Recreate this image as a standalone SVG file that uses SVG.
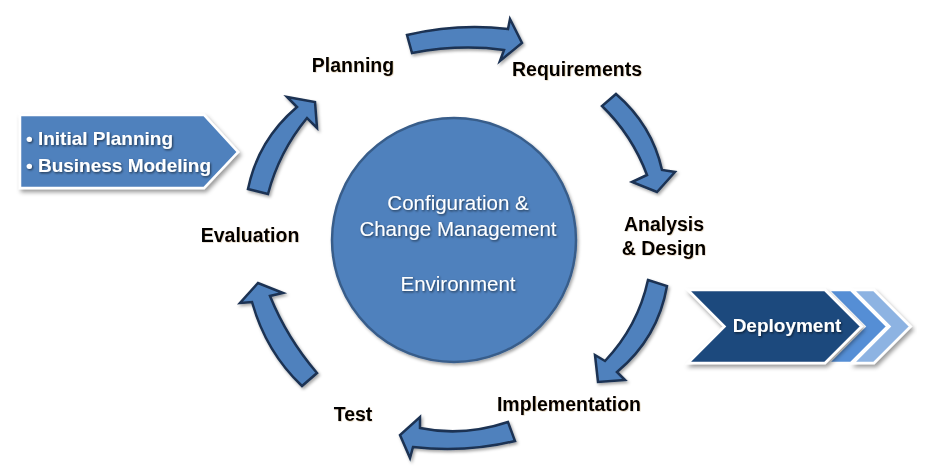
<svg xmlns="http://www.w3.org/2000/svg" width="925" height="476" viewBox="0 0 925 476">
<style>
.lbl{font-family:"Liberation Sans",Arial,sans-serif;font-weight:bold;font-size:19.5px;fill:#000;text-anchor:middle;filter:url(#tsh)}
.wt{font-family:"Liberation Sans",Arial,sans-serif;font-size:20.5px;fill:#fff;text-anchor:middle;filter:url(#wsh)}
.wb{font-family:"Liberation Sans",Arial,sans-serif;font-weight:bold;font-size:19px;fill:#fff;filter:url(#wsh)}
.arr{fill:#4f81bd;stroke:#1b3252;stroke-width:2.5;stroke-linejoin:miter;filter:url(#ash)}
.box{fill:#4f81bd;stroke:#fff;stroke-width:2.5;filter:url(#bsh)}
</style>
<defs>
<filter id="tsh" x="-10%" y="-30%" width="120%" height="160%"><feDropShadow dx="0.6" dy="0.6" stdDeviation="0.4" flood-color="#8a5a20" flood-opacity="0.3"/></filter>
<filter id="wsh" x="-10%" y="-30%" width="120%" height="160%"><feDropShadow dx="1" dy="1.2" stdDeviation="0.8" flood-color="#000" flood-opacity="0.6"/></filter>
<filter id="ash" x="-20%" y="-20%" width="140%" height="140%"><feDropShadow dx="1.5" dy="2" stdDeviation="1.5" flood-color="#000" flood-opacity="0.35"/></filter>
<filter id="bsh" x="-10%" y="-20%" width="120%" height="150%"><feDropShadow dx="2" dy="3" stdDeviation="2" flood-color="#000" flood-opacity="0.4"/></filter>
</defs>
<rect width="925" height="476" fill="#fff"/>

<g id="connectors">
<path class="arr" d="M407,35 Q458,23 508,29 L510,19 L522,43 L500,61 L504,50 Q460,44 412,53 Z"/>
<path class="arr" d="M602,106 Q632,135 647,175 L632,182 L657,192 L675,172 L662,170 Q652,125 616,94 Z"/>
<path class="arr" d="M648,280 L667,286 Q658,338 617,372 L625,380 L598,382 L595,355 L605,361 Q638,326 648,280 Z"/>
<path class="arr" d="M508,422 Q463,437 420,428 L420,417 L400,435 L410,458 L413,447 Q465,453 515,441 Z"/>
<path class="arr" d="M252,302 Q266,352 302,386 L317,373 Q287,338 270,296 L283,293 L258,283 L240,303 Z"/>
<path class="arr" d="M248,189 Q258,140 297,107 L287,97 L315,102 L317,128 L307,118 Q279,152 268,194 Z"/>
</g>

<g id="center">
<circle cx="454" cy="240" r="122" fill="#4f81bd" stroke="#385d8a" stroke-width="2.5" filter="url(#ash)"/>
<text class="wt" x="458" y="210">Configuration &amp;</text>
<text class="wt" x="458" y="236">Change Management</text>
<text class="wt" x="458" y="291">Environment</text>
</g>

<g id="planning"><text class="lbl" x="353" y="72">Planning</text></g>
<g id="requirements"><text class="lbl" x="577" y="76">Requirements</text></g>
<g id="analysis"><text class="lbl" x="664" y="231">Analysis</text><text class="lbl" x="664" y="255">&amp; Design</text></g>
<g id="implementation"><text class="lbl" x="569" y="411">Implementation</text></g>
<g id="test"><text class="lbl" x="353" y="421">Test</text></g>
<g id="evaluation"><text class="lbl" x="250" y="242">Evaluation</text></g>

<g id="callout">
<path class="box" d="M20,115 L204,115 L238,152 L204,188 L20,188 Z"/>
<text class="wb" x="26" y="145">• Initial Planning</text>
<text class="wb" x="26" y="172">• Business Modeling</text>
</g>

<g id="deployment">
<path d="M853,290 L874,290 L910.5,326.5 L874,363 L853,363 L889.5,326.5 Z" fill="#8db3e2" stroke="#fff" stroke-width="2.5" filter="url(#bsh)"/>
<path d="M828,290 L851,290 L887.5,326.5 L851,363 L828,363 L864.5,326.5 Z" fill="#558ed5" stroke="#fff" stroke-width="2.5"/>
<path d="M688,290 L825,290 L861.5,326.5 L825,363 L688,363 L724.5,326.5 Z" fill="#1f497d" stroke="#fff" stroke-width="2.5" filter="url(#bsh)"/>
<text class="wb" x="787" y="332" text-anchor="middle">Deployment</text>
</g>
</svg>
